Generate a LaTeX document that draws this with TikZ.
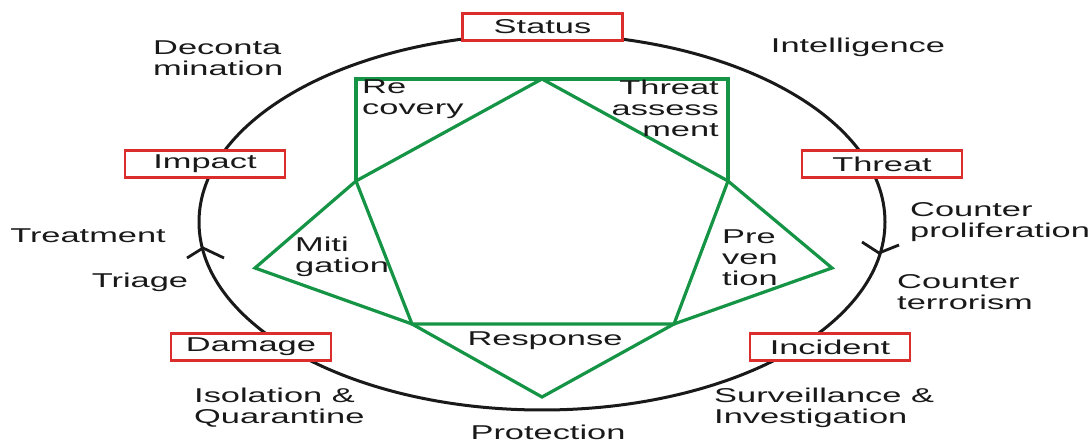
\documentclass[tikz,border=0pt]{standalone}
\usepackage{fontspec}
\setmainfont[FakeStretch=1.72]{Liberation Sans}
\definecolor{gline}{RGB}{20,148,68}
\definecolor{rbox}{RGB}{220,45,45}
\definecolor{txt}{RGB}{25,25,25}
\begin{document}
\begin{tikzpicture}[x=1pt,y=-1pt,
  lbl/.style={font=\fontsize{20pt}{21pt}\selectfont, text=txt, inner sep=0pt, align=left},
  lblr/.style={lbl, align=right},
  stagebox/.style={draw=rbox, line width=2.8pt, fill=white, minimum width=160pt, minimum height=27pt, inner sep=0pt, font=\fontsize{20pt}{21pt}\selectfont, text=txt},
  gl/.style={draw=gline, line width=3.2pt, line join=miter},
  ring/.style={draw=black!90, line width=3pt},
  chev/.style={draw=black!90, line width=2.8pt}]
\useasboundingbox (0,0) rectangle (1088,443);
% cycle ellipse
\draw[ring] (542,222) ellipse [x radius=343pt, y radius=188pt];
% chevrons on the ring
\coordinate (lt) at (203,248);
\coordinate (rt) at (879,253);
\draw[chev] (187,258) -- (lt) -- (224,258);
\draw[chev] (862,242) -- (rt) -- (899,245);
% green figure
\coordinate (apex) at (542,79);
\coordinate (rtl) at (356,79);
\coordinate (rtr) at (728,79);
\coordinate (pl) at (356,181);
\coordinate (pr) at (728,181);
\coordinate (pbl) at (412,324);
\coordinate (pbr) at (674,324);
\coordinate (tl) at (255,268);
\coordinate (tr) at (832,268);
\coordinate (tb) at (542,397);
\draw[gl] (pl) -- (rtl) -- (rtr) -- (pr);
\draw[gl] (pl) -- (apex) -- (pr);
\draw[gl] (pl) -- (tl) -- (pbl);
\draw[gl] (pr) -- (tr) -- (pbr);
\draw[gl] (pbl) -- (tb) -- (pbr);
\draw[gl] (pl) -- (pbl) -- (pbr) -- (pr);
% stage boxes
\node[stagebox] (status) at (542.5,27) {Status};
\node[stagebox] (impact) at (205,164) {Impact};
\node[stagebox] (threat) at (882,164) {Threat};
\node[stagebox] (damage) at (251,347) {Damage};
\node[stagebox] (incident) at (830,347) {Incident};
% inner labels
\node[lbl, anchor=north west] (recovery) at (362,80) {Re\\covery};
\node[lblr, anchor=north east] (assess) at (719,80) {Threat\\assess\\ment};
\node[lbl, anchor=west] (miti) at (295,257) {Miti\\gation};
\node[lbl, anchor=west] (prev) at (722,258) {Pre\\ven\\tion};
\node[lbl] (response) at (545,341) {Response};
% outer labels
\node[lbl, anchor=west] (decon) at (153,58) {Deconta\\mination};
\node[lbl] (intel) at (858,47) {Intelligence};
\node[lbl] (treat) at (88,236) {Treatment};
\node[lbl] (triage) at (140,282) {Triage};
\node[lbl, anchor=west] (cprol) at (910,222) {Counter\\proliferation};
\node[lbl, anchor=west] (cterr) at (897,292) {Counter\\terrorism};
\node[lbl, anchor=west] (isol) at (194,408) {Isolation \&\\Quarantine};
\node[lbl, anchor=west] (surv) at (714,408) {Surveillance \&\\Investigation};
\node[lbl] (prot) at (548,432) {Protection};
\end{tikzpicture}
\end{document}
